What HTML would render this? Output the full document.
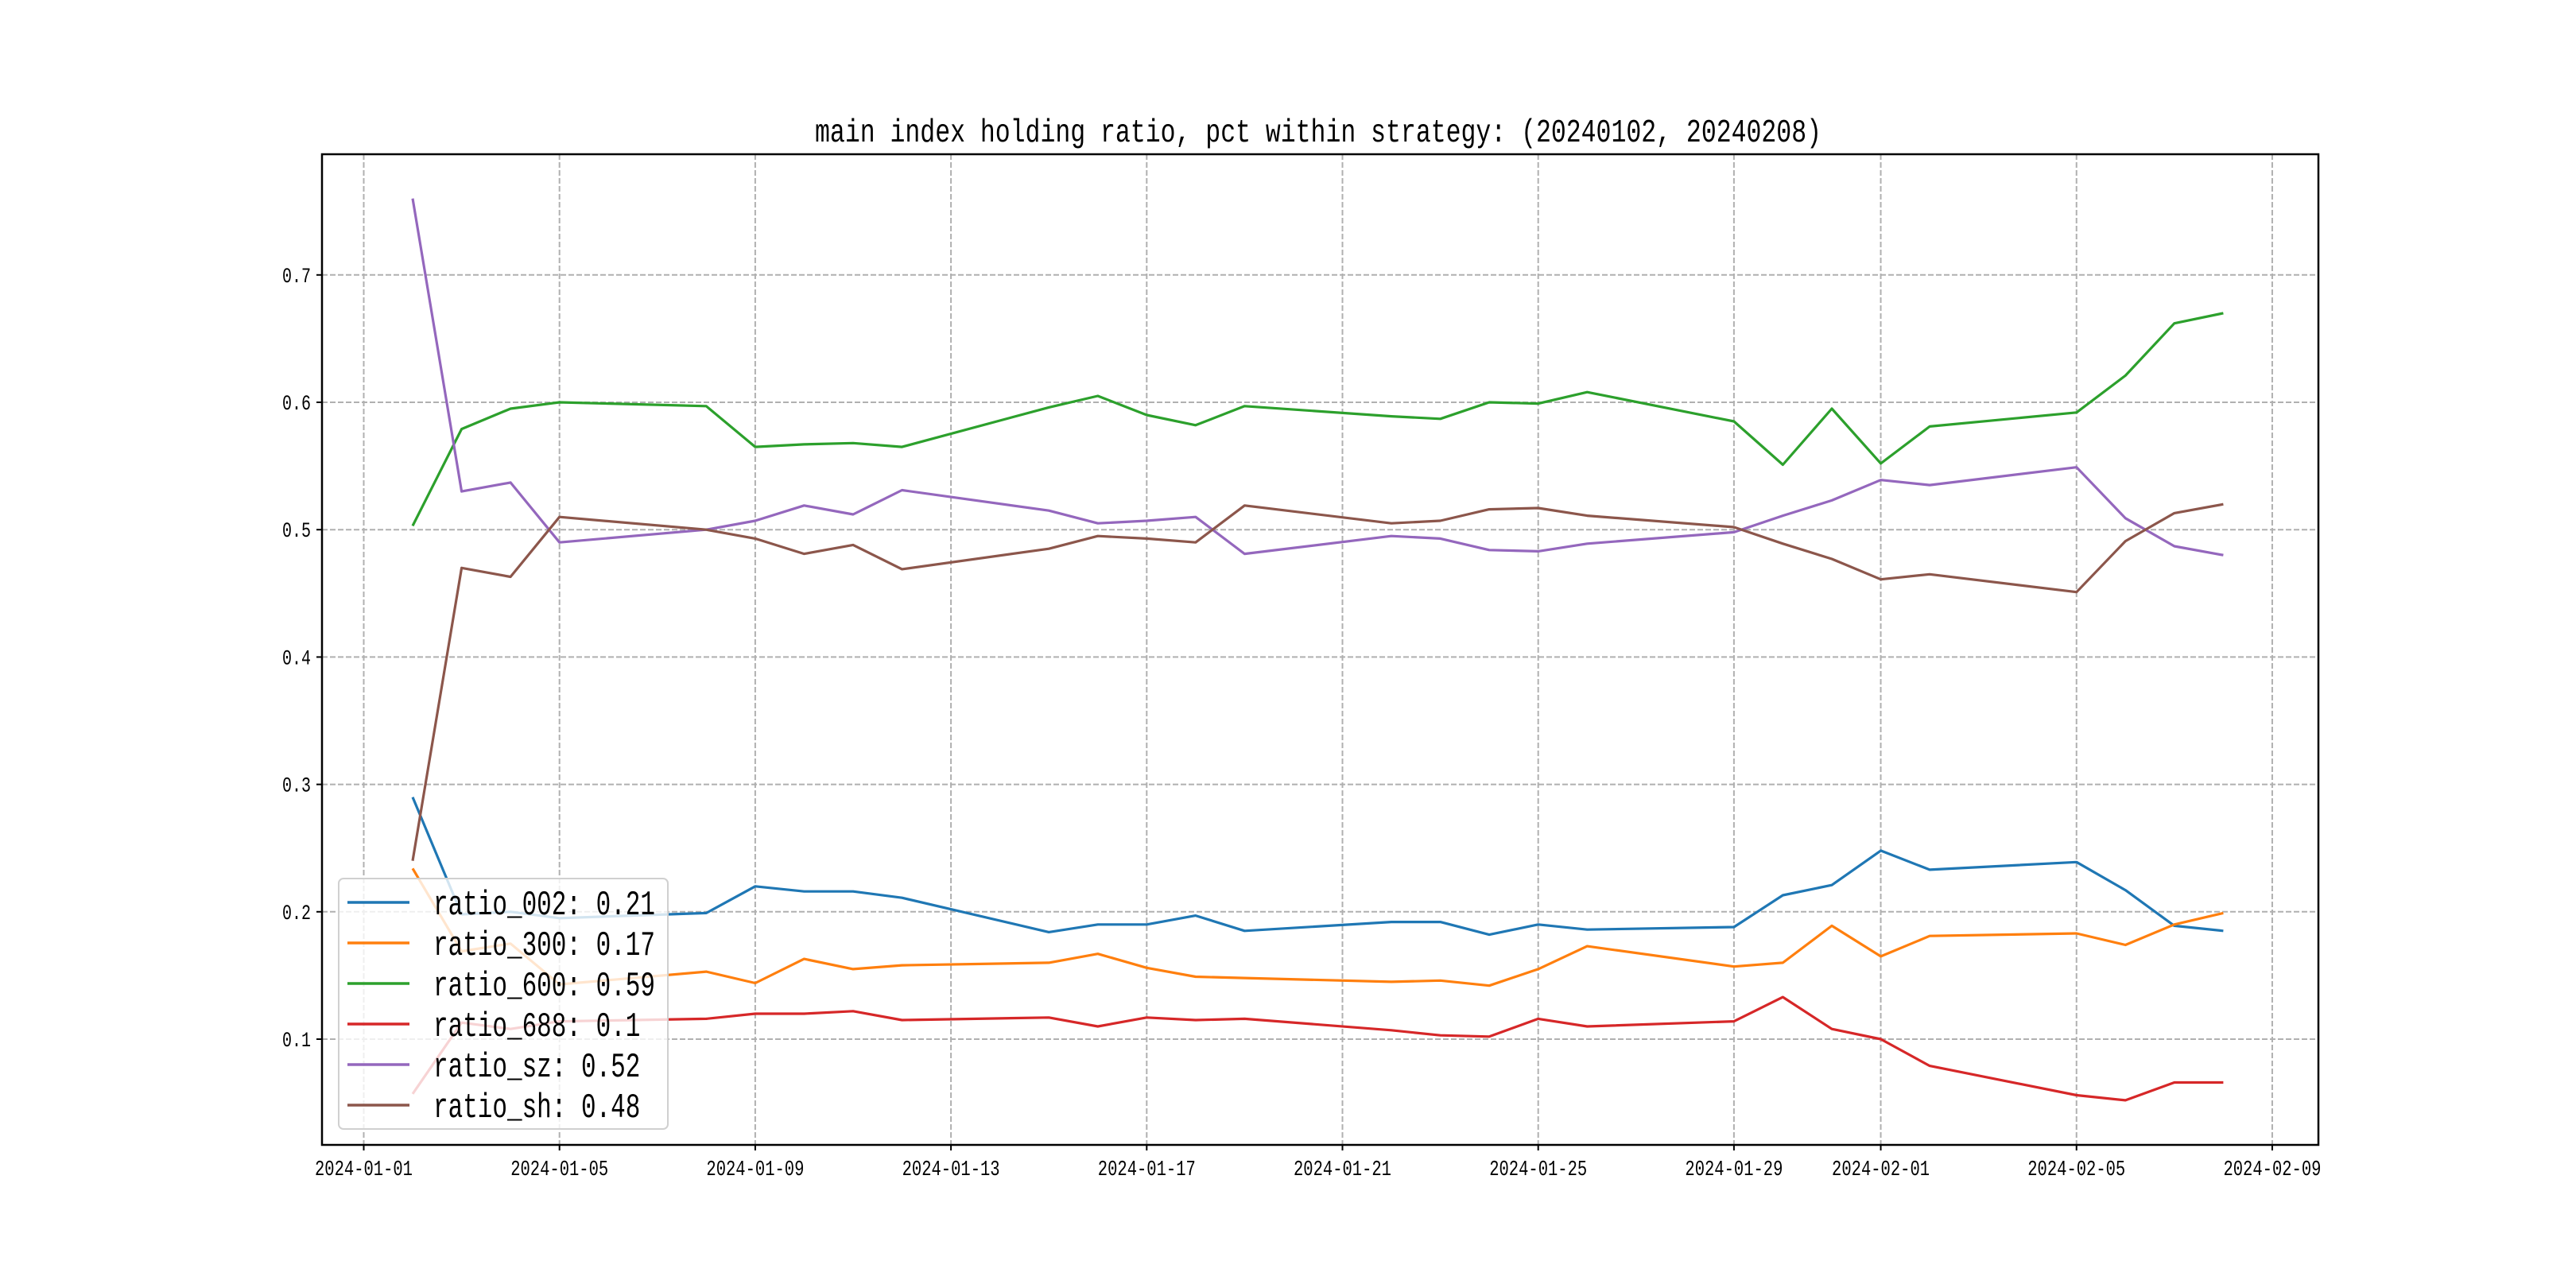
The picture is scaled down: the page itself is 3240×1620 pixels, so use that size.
<!DOCTYPE html>
<html><head><meta charset="utf-8"><style>
html,body{margin:0;padding:0;background:#fff;}
svg{display:block;}
text{font-family:"Liberation Mono","Noto Sans CJK SC",monospace;fill:#000;}
</style></head><body>
<svg id="chart" width="3240" height="1620" viewBox="0 0 3240 1620" xmlns="http://www.w3.org/2000/svg">
<rect x="0" y="0" width="3240" height="1620" fill="#fff"/>
<text transform="translate(1658,178) scale(1,1.3)" font-size="31.5" text-anchor="middle">main index holding ratio, pct within strategy: (20240102, 20240208)</text>
<g id="grid"></g>
<g id="series"></g>
<rect x="405" y="194" width="2511" height="1246" fill="none" stroke="#000" stroke-width="2.5"/>
<g id="ticks"></g>
<g id="legend"></g>
</svg>
<script>
const dayIdx = [1,2,3,4,7,8,9,10,11,14,15,16,17,18,21,22,23,24,25,28,29,30,31,32,35,36,37,38];
const ratio002 = [0.290,0.198,0.200,0.195,0.199,0.220,0.216,0.216,0.211,0.184,0.190,0.190,0.197,0.185,0.192,0.192,0.182,0.190,0.186,0.188,0.213,0.221,0.248,0.233,0.239,0.217,0.189,0.185];
const ratio300 = [0.234,0.169,0.175,0.143,0.153,0.144,0.163,0.155,0.158,0.160,0.167,0.156,0.149,0.148,0.145,0.146,0.142,0.155,0.173,0.157,0.160,0.189,0.165,0.181,0.183,0.174,0.190,0.199];
const ratio600 = [0.503,0.579,0.595,0.600,0.597,0.565,0.567,0.568,0.565,0.596,0.605,0.590,0.582,0.597,0.589,0.587,0.600,0.599,0.608,0.585,0.551,0.595,0.552,0.581,0.592,0.621,0.662,0.670];
const ratio688 = [0.057,0.113,0.108,0.114,0.116,0.120,0.120,0.122,0.115,0.117,0.110,0.117,0.115,0.116,0.107,0.103,0.102,0.116,0.110,0.114,0.133,0.108,0.100,0.079,0.056,0.052,0.066,0.066];
const ratioSz = [0.760,0.530,0.537,0.490,0.500,0.507,0.519,0.512,0.531,0.515,0.505,0.507,0.510,0.481,0.495,0.493,0.484,0.483,0.489,0.498,0.511,0.523,0.539,0.535,0.549,0.509,0.487,0.480];
const ratioSh = [0.240,0.470,0.463,0.510,0.500,0.493,0.481,0.488,0.469,0.485,0.495,0.493,0.490,0.519,0.505,0.507,0.516,0.517,0.511,0.502,0.489,0.477,0.461,0.465,0.451,0.491,0.513,0.520];
const seriesNames = ["ratio_002","ratio_300","ratio_600","ratio_688","ratio_sz","ratio_sh"];
const legendValues = ["0.21","0.17","0.59","0.1","0.52","0.48"];
const yTicks = [0.1,0.2,0.3,0.4,0.5,0.6,0.7];
const yTickLabels = ["0.1","0.2","0.3","0.4","0.5","0.6","0.7"];
const xTickDays = [0,4,8,12,16,20,24,28,31,35,39];
const xTickLabels = ["2024-01-01","2024-01-05","2024-01-09","2024-01-13","2024-01-17","2024-01-21","2024-01-25","2024-01-29","2024-02-01","2024-02-05","2024-02-09"];

const colors = ["#1f77b4","#ff7f0e","#2ca02c","#d62728","#9467bd","#8c564b"];
const allSeries = [ratio002,ratio300,ratio600,ratio688,ratioSz,ratioSh];
const NS = "http://www.w3.org/2000/svg";
const X = d => 457.5 + d*61.55;
const Y = v => 345.8 + (0.7 - v)*1602;
const L=405,R=2916,T=194,B=1440;
function mk(tag, attrs, parent){const e=document.createElementNS(NS,tag);for(const k in attrs)e.setAttribute(k,attrs[k]);parent.appendChild(e);return e;}
const grid=document.getElementById('grid'), ticks=document.getElementById('ticks'), ser=document.getElementById('series'), leg=document.getElementById('legend');
yTicks.forEach((v,i)=>{
  const g=mk('line',{x1:L,x2:R,y1:Y(v),y2:Y(v),stroke:'#b0b0b0','stroke-width':2,'stroke-dasharray':'7,3'},grid);
  
  
  const t=mk('line',{x1:L-7,x2:L,y1:Y(v),y2:Y(v),stroke:'#000','stroke-width':2},ticks);
  
  
  const tx=mk('text',{transform:'translate('+(L-14)+','+(Y(v)+9)+') scale(1,1.35)','font-size':20,'text-anchor':'end'},ticks);
  tx.textContent=yTickLabels[i];
  
  
});
xTickDays.forEach((d,i)=>{
  const g=mk('line',{x1:X(d),x2:X(d),y1:T,y2:B,stroke:'#b0b0b0','stroke-width':2,'stroke-dasharray':'7,3'},grid);
  
  
  const t=mk('line',{x1:X(d),x2:X(d),y1:B,y2:B+7,stroke:'#000','stroke-width':2},ticks);
  
  
  const tx=mk('text',{transform:'translate('+X(d)+','+(B+38)+') scale(1,1.3)','font-size':20.5,'text-anchor':'middle'},ticks);
  tx.textContent=xTickLabels[i];
  
  
});
allSeries.forEach((arr,s)=>{
  const pts=arr.map((v,i)=>X(dayIdx[i]).toFixed(1)+','+Y(v).toFixed(1)).join(' ');
  const p=mk('polyline',{points:pts,fill:'none',stroke:colors[s],'stroke-width':3.2,'stroke-linejoin':'round'},ser);
  
  
});
const box=mk('rect',{x:426,y:1105,width:414,height:315,rx:6,fill:'#fff','fill-opacity':0.8,stroke:'#d0d0d0','stroke-width':2},leg);


const rowsY=[1135,1186,1237,1288,1339,1390];
seriesNames.forEach((n,i)=>{
  const ln=mk('line',{x1:437,x2:515,y1:rowsY[i],y2:rowsY[i],stroke:colors[i],'stroke-width':3.5},leg);
  
  
  const t=mk('text',{transform:'translate(545,'+(rowsY[i]+15)+') scale(1,1.4)','font-size':31},leg);
  t.textContent=n+': '+legendValues[i];
  
  
});
</script>
</body></html>
